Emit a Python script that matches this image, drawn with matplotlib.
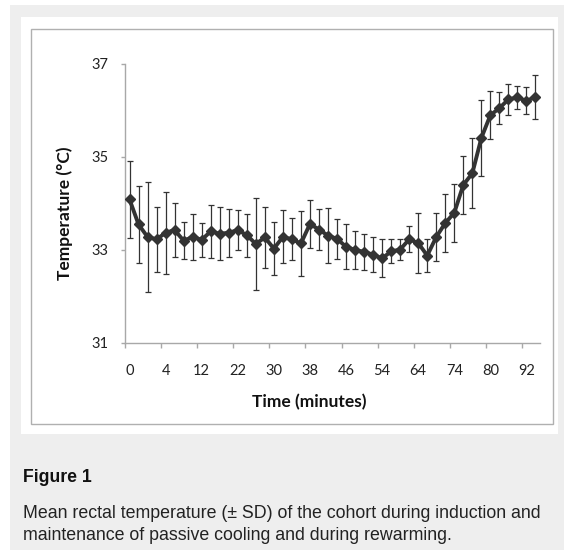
import matplotlib
matplotlib.use("Agg")
import matplotlib.pyplot as plt
from matplotlib.patches import Rectangle
import numpy as np

# ---- data ----
temp_mean = [34.09, 33.55, 33.28, 33.23, 33.37, 33.43, 33.20, 33.28, 33.22, 33.40,
             33.35, 33.37, 33.43, 33.32, 33.13, 33.27, 33.03, 33.28, 33.23, 33.14,
             33.56, 33.44, 33.31, 33.24, 33.07, 33.00, 32.96, 32.90, 32.82, 32.97,
             33.01, 33.23, 33.15, 32.88, 33.28, 33.58, 33.80, 34.40, 34.65, 35.41,
             35.90, 36.05, 36.24, 36.28, 36.21, 36.29]
temp_sd = [0.83, 0.82, 1.19, 0.70, 0.88, 0.57, 0.40, 0.50, 0.36, 0.57,
           0.57, 0.51, 0.43, 0.46, 0.99, 0.65, 0.57, 0.57, 0.45, 0.70,
           0.52, 0.44, 0.60, 0.43, 0.48, 0.41, 0.38, 0.38, 0.41, 0.26,
           0.23, 0.28, 0.65, 0.36, 0.51, 0.62, 0.62, 0.62, 0.75, 0.82,
           0.51, 0.34, 0.34, 0.25, 0.29, 0.47]
time_labels = ["0", "4", "12", "22", "30", "38", "46", "54", "64", "74", "80", "92"]
y_ticks = [31, 33, 35, 37]

W, H = 564, 550
fig = plt.figure(figsize=(W / 100, H / 100), dpi=100)
fig.patch.set_facecolor("white")

def rect(x0, y0, x1, y1, **kw):
    fig.patches.append(Rectangle((x0 / W, 1 - y1 / H), (x1 - x0) / W, (y1 - y0) / H,
                                 transform=fig.transFigure, figure=fig, **kw))

rect(10, 5, 564, 550, facecolor="#eeeeee", edgecolor="none", zorder=0)
rect(21, 17, 558, 434, facecolor="white", edgecolor="none", zorder=1)
rect(31, 29, 553, 424, facecolor="white", edgecolor="#b0b0b0", linewidth=1.0, zorder=2)

ax_l, ax_r, ax_t, ax_b = 125, 540, 64, 343
ax = fig.add_axes([ax_l / W, 1 - ax_b / H, (ax_r - ax_l) / W, (ax_b - ax_t) / H])
ax.set_zorder(3)
ax.patch.set_alpha(0)

n = len(temp_mean)
x = np.arange(n)
ax.errorbar(x, temp_mean, yerr=temp_sd, fmt="none", ecolor="#333333",
            elinewidth=0.9, capsize=2, capthick=0.9, zorder=3)
ax.plot(x, temp_mean, color="#333333", linewidth=2.8, marker="D", markersize=5.5,
        markerfacecolor="#333333", markeredgecolor="#333333", zorder=4)

ax.set_xlim(-0.5, n - 0.5)
ax.set_ylim(31, 37)

for s in ["top", "right"]:
    ax.spines[s].set_visible(False)
for s in ["left", "bottom"]:
    ax.spines[s].set_color("#a8a8a8")
    ax.spines[s].set_linewidth(1.0)

font = "Lato"
label_pos = np.arange(0, 4 * len(time_labels), 4)
ax.set_xticks(label_pos)
ax.set_xticklabels(time_labels, fontfamily=font, fontsize=10.5, color="#222222")
ax.set_xticks(np.concatenate([[-0.5], np.arange(3.5, n - 1, 4)]), minor=True)
ax.tick_params(axis="x", which="major", length=0, pad=15)
ax.tick_params(axis="x", which="minor", length=3.5, direction="out", color="#a8a8a8", width=1)

ax.set_yticks(y_ticks)
ax.set_yticklabels([str(v) for v in y_ticks], fontfamily=font, fontsize=10.5, color="#222222")
ax.tick_params(axis="y", length=3, direction="out", color="#a8a8a8", width=1, pad=9)

fig.text(309 / W, 1 - 402 / H, "Time (minutes)", fontfamily=font, fontweight="bold",
         fontsize=12.5, ha="center", va="center", color="#111111")
fig.text(65 / W, 1 - 213 / H, "Temperature (°C)", fontfamily=font, fontweight="bold",
         fontsize=12.5, ha="center", va="center", rotation=90, color="#111111")

fig.text(23 / W, 1 - 477 / H, "Figure 1", fontfamily="Liberation Sans", fontweight="bold",
         fontsize=12.7, ha="left", va="center", color="#111111")
fig.text(23 / W, 1 - 514 / H, "Mean rectal temperature (± SD) of the cohort during induction and",
         fontfamily="Liberation Sans", fontsize=12.8, ha="left", va="center", color="#222222")
fig.text(23 / W, 1 - 535 / H, "maintenance of passive cooling and during rewarming.",
         fontfamily="Liberation Sans", fontsize=12.8, ha="left", va="center", color="#222222")

fig.savefig("out.png", dpi=100)
